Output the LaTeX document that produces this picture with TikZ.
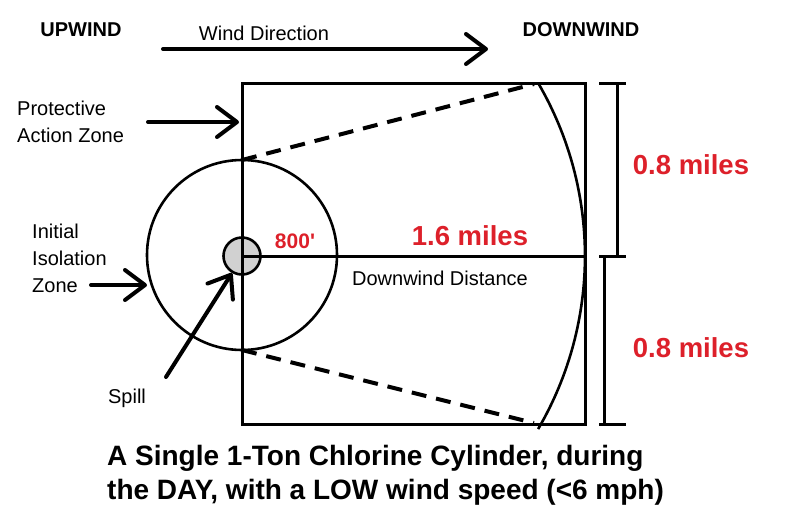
\documentclass[tikz,border=0pt]{standalone}
\usepackage{fontspec}
\setmainfont{Liberation Sans}
\usetikzlibrary{arrows.meta}
\definecolor{myred}{RGB}{221,32,42}
\begin{document}
\begin{tikzpicture}[x=1pt,y=-1pt,
  lbl/.style={inner sep=0pt, font=\fontsize{20}{27}\selectfont, align=left},
  bld/.style={inner sep=0pt, font=\fontsize{20}{24}\selectfont\bfseries},
  redl/.style={inner sep=0pt, text=myred, font=\fontsize{27.5}{30}\selectfont\bfseries},
  ttl/.style={inner sep=0pt, font=\fontsize{28}{34}\selectfont\bfseries, align=left},
  arr/.style={line width=4pt, line cap=round, -{Straight Barb[round,length=20pt,width=30pt]}},
  thick3/.style={line width=3pt},
  dsh/.style={line width=4pt, dash pattern=on 15pt off 10pt},
  brk/.style={line width=3pt}]
\useasboundingbox (0,0) rectangle (807,523);

% texts
\node[bld] (up) at (81,30) {UPWIND};
\node[lbl] (wd) at (264,33) {Wind Direction};
\node[bld] (down) at (581,30) {DOWNWIND};
\node[lbl, anchor=west] (paz) at (17,121.5) {Protective\\Action Zone};
\node[lbl, anchor=west] (iiz) at (32,258) {Initial\\Isolation\\Zone};
\node[lbl] (spilltxt) at (127,398) {Spill};
\node[redl, font=\fontsize{21}{24}\selectfont\bfseries] (d800) at (295,241) {800\textquotesingle};
\node[redl] (d16) at (470,236) {1.6 miles};
\node[lbl] (dd) at (440,278) {Downwind Distance};
\node[redl] (m1) at (691,165) {0.8 miles};
\node[redl] (m2) at (691,348) {0.8 miles};
\node[ttl, anchor=west] (title) at (107,475) {A Single 1-Ton Chlorine Cylinder, during\\the DAY, with a LOW wind speed (<6 mph)};

% geometry
\coordinate (ctr) at (242,256);
\coordinate (bTL) at (242,83);
\coordinate (bTR) at (585,83);
\coordinate (bBR) at (585,424);
\coordinate (bBL) at (242,424);
\coordinate (bR) at (585,256);

% spill circle fill
\node[circle, fill=black!18, minimum size=38pt, inner sep=0pt] (spill) at (ctr) {};

% box
\draw[thick3] (bTL) -- (bTR) -- (bBR) -- (bBL) -- cycle;
% downwind line
\draw[thick3] (ctr) -- (bR);
% isolation circle
\draw[line width=2.6pt] (242,255) circle[radius=95];
\draw[line width=2.6pt] (spill.center) circle[radius=18.5];

% arc
\draw[line width=2.6pt] (ctr) ++(30.3:343) arc[start angle=30.3, end angle=-30.3, radius=343];

% dashed
\coordinate (dt1) at (242,160);
\coordinate (dt2) at (534,84);
\coordinate (db1) at (242,350);
\coordinate (db2) at (534,423);
\draw[dsh] (dt1) -- (dt2);
\draw[dsh] (db1) -- (db2);

% brackets
\draw[brk] (599,83) -- (626,83);
\draw[brk] (617,83) -- (617,256);
\draw[brk] (599,256) -- (626,256);
\draw[brk] (604,256) -- (604,424);
\draw[brk] (599,424) -- (626,424);

% arrows
\coordinate (w1) at (163,49);
\coordinate (w2) at (488,49);
\draw[arr] (w1) -- (w2);
\coordinate (p1) at (148,122);
\coordinate (p2) at (239,122);
\draw[arr] (p1) -- (p2);
\coordinate (z1) at (91,285);
\coordinate (z2) at (147,285);
\draw[arr] (z1) -- (z2);
\coordinate (s1) at (166,377);
\coordinate (s2) at (232,273);
\draw[arr] (s1) -- (s2);
\end{tikzpicture}
\end{document}
